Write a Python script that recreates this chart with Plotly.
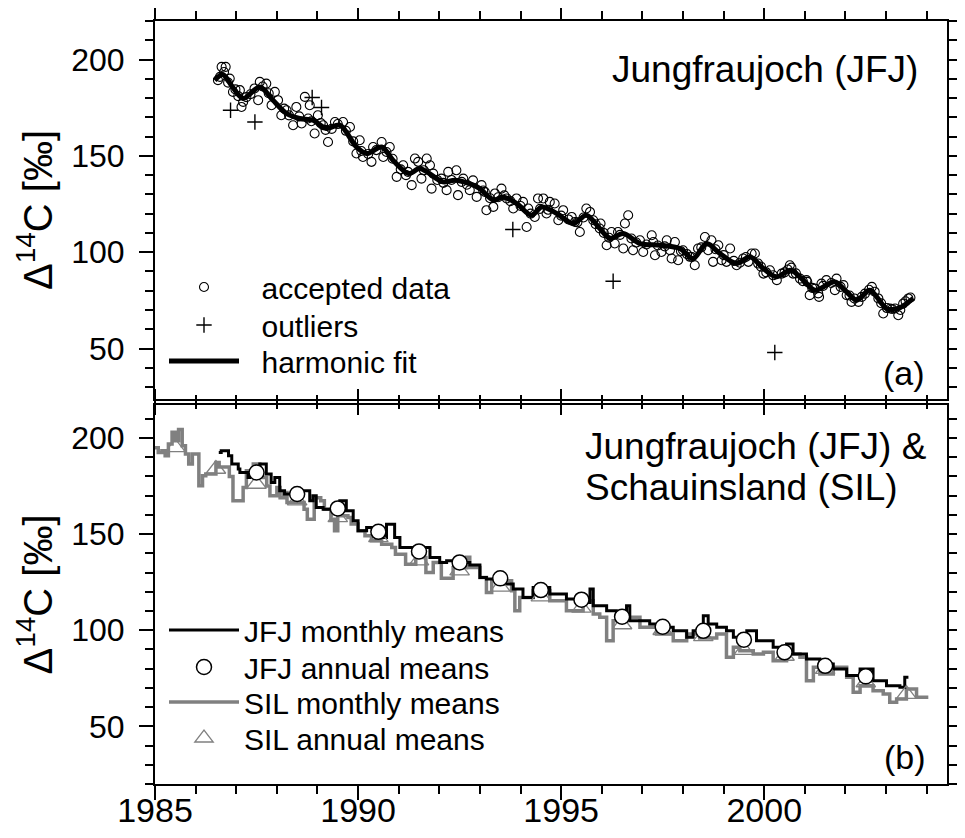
import plotly.graph_objects as go

# ---------------- Panel (a): Jungfraujoch individual samples ----------------
acc_year = [1986.55, 1986.60, 1986.64, 1986.70, 1986.74, 1986.80, 1986.84, 1986.92, 1986.98, 1987.05,
            1987.09, 1987.13, 1987.17, 1987.25, 1987.35, 1987.45, 1987.54, 1987.58, 1987.65, 1987.74,
            1987.80, 1987.87, 1987.95, 1988.03, 1988.11, 1988.18, 1988.24, 1988.30, 1988.40, 1988.48,
            1988.55, 1988.61, 1988.69, 1988.77, 1988.81, 1988.85, 1988.93, 1989.01, 1989.08, 1989.14,
            1989.20, 1989.26, 1989.35, 1989.43, 1989.50, 1989.63, 1989.70, 1989.80, 1989.88, 1989.96,
            1990.04, 1990.08, 1990.12, 1990.25, 1990.33, 1990.37, 1990.45, 1990.58, 1990.62, 1990.70,
            1990.78, 1990.85, 1990.95, 1991.05, 1991.11, 1991.18, 1991.23, 1991.32, 1991.40, 1991.48,
            1991.56, 1991.62, 1991.69, 1991.77, 1991.81, 1991.85, 1991.95, 1992.05, 1992.10, 1992.18,
            1992.22, 1992.30, 1992.42, 1992.46, 1992.55, 1992.59, 1992.68, 1992.75, 1992.83, 1992.92,
            1993.04, 1993.08, 1993.12, 1993.16, 1993.25, 1993.33, 1993.37, 1993.45, 1993.53, 1993.60,
            1993.66, 1993.75, 1993.82, 1993.90, 1994.00, 1994.06, 1994.15, 1994.19, 1994.25, 1994.35,
            1994.43, 1994.48, 1994.56, 1994.64, 1994.68, 1994.72, 1994.84, 1994.93, 1995.00, 1995.05,
            1995.18, 1995.26, 1995.34, 1995.40, 1995.46, 1995.55, 1995.62, 1995.71, 1995.79, 1995.85,
            1995.95, 1995.97, 1996.05, 1996.12, 1996.18, 1996.24, 1996.32, 1996.40, 1996.45, 1996.53,
            1996.57, 1996.65, 1996.73, 1996.77, 1996.85, 1996.94, 1997.02, 1997.10, 1997.23, 1997.27,
            1997.31, 1997.38, 1997.47, 1997.55, 1997.60, 1997.68, 1997.72, 1997.80, 1997.88, 1997.95,
            1998.00, 1998.10, 1998.17, 1998.22, 1998.29, 1998.37, 1998.45, 1998.54, 1998.62, 1998.70,
            1998.74, 1998.80, 1998.87, 1998.95, 1999.00, 1999.07, 1999.16, 1999.25, 1999.32, 1999.40,
            1999.48, 1999.55, 1999.61, 1999.69, 1999.77, 1999.85, 1999.92, 1999.98, 2000.05, 2000.14,
            2000.22, 2000.31, 2000.43, 2000.50, 2000.58, 2000.63, 2000.67, 2000.71, 2000.78, 2000.88,
            2000.95, 2001.04, 2001.06, 2001.12, 2001.18, 2001.25, 2001.33, 2001.35, 2001.41, 2001.45,
            2001.53, 2001.65, 2001.74, 2001.78, 2001.88, 2001.95, 2002.03, 2002.10, 2002.15, 2002.22,
            2002.32, 2002.40, 2002.48, 2002.58, 2002.65, 2002.72, 2002.81, 2002.88, 2002.93, 2003.02,
            2003.10, 2003.15, 2003.22, 2003.30, 2003.35, 2003.42, 2003.48, 2003.55, 2003.60]
acc_val = [189.3, 191.0, 196.2, 193.5, 196.2, 188.0, 190.1, 183.2, 184.5, 181.0,
           184.1, 175.4, 178.0, 180.5, 182.0, 185.0, 178.9, 188.4, 186.0, 187.5,
           182.5, 176.3, 183.2, 178.9, 171.1, 174.5, 173.7, 171.0, 165.9, 175.4,
           170.5, 166.8, 180.6, 169.4, 176.3, 168.0, 161.6, 171.1, 167.0, 165.9,
           163.5, 157.2, 164.0, 167.6, 166.5, 167.6, 163.0, 165.0, 157.5, 151.2,
           158.1, 152.5, 149.4, 151.0, 146.9, 154.6, 153.0, 157.2, 149.4, 152.0,
           154.6, 148.5, 139.1, 143.0, 145.1, 140.0, 141.7, 134.8, 148.6, 146.9,
           138.2, 142.5, 148.6, 145.1, 133.0, 140.8, 137.5, 138.2, 136.0, 132.2,
           141.7, 137.5, 142.5, 129.6, 136.5, 138.2, 135.0, 132.2, 137.3, 128.7,
           134.8, 132.0, 131.3, 121.8, 128.0, 123.5, 130.5, 128.5, 133.0, 129.5,
           127.9, 126.5, 122.7, 127.9, 124.0, 126.1, 113.1, 122.7, 120.0, 118.3,
           127.9, 122.5, 127.9, 120.1, 122.0, 126.1, 125.3, 116.6, 119.0, 121.8,
           117.0, 118.3, 115.7, 115.5, 110.5, 118.0, 122.7, 120.9, 116.6, 114.5,
           112.3, 114.9, 110.0, 103.6, 107.5, 110.5, 104.5, 110.5, 109.0, 101.9,
           114.9, 119.2, 107.1, 101.0, 105.0, 106.2, 100.1, 104.0, 108.8, 105.3,
           98.4, 103.5, 100.1, 103.0, 106.2, 101.0, 96.7, 105.3, 95.8, 100.5,
           101.0, 99.0, 97.6, 97.5, 93.2, 101.9, 102.5, 107.9, 101.0, 106.2,
           95.0, 101.5, 103.6, 95.8, 98.5, 95.0, 101.9, 95.5, 93.2, 94.5,
           96.7, 97.5, 95.0, 99.3, 99.3, 94.1, 92.5, 88.9, 89.5, 90.6,
           88.0, 85.5, 88.9, 89.5, 91.0, 93.2, 92.0, 88.9, 89.0, 86.3,
           85.0, 85.5, 84.6, 77.7, 81.5, 81.1, 78.6, 76.8, 83.7, 82.5,
           85.5, 84.0, 80.3, 86.3, 82.0, 82.9, 77.7, 77.5, 74.2, 76.0,
           74.2, 76.8, 78.5, 80.5, 82.0, 79.5, 76.0, 73.5, 68.2, 71.0,
           70.8, 70.5, 70.8, 67.3, 70.0, 73.3, 74.5, 76.0, 76.5]

out_year = [1986.86, 1987.46, 1988.87, 1989.10, 1993.81, 1996.28, 2000.26]
out_val = [173.7, 167.6, 180.3, 175.1, 111.8, 84.9, 47.9]

fit_year = [1986.47, 1986.67, 1986.90, 1987.17, 1987.58, 1987.90, 1988.24, 1988.56, 1988.89, 1989.22,
            1989.55, 1989.96, 1990.21, 1990.58, 1990.86, 1991.25, 1991.52, 1992.09, 1992.38, 1992.75,
            1993.00, 1993.33, 1993.57, 1993.90, 1994.27, 1994.52, 1994.89, 1995.30, 1995.62, 1995.95,
            1996.20, 1996.53, 1996.94, 1997.43, 1997.92, 1998.25, 1998.58, 1998.91, 1999.32, 1999.65,
            1999.98, 2000.30, 2000.65, 2000.96, 2001.25, 2001.74, 2002.00, 2002.28, 2002.60, 2003.01,
            2003.30, 2003.67]
fit_val = [189.3, 192.2, 186.0, 179.8, 185.8, 179.0, 172.0, 169.4, 168.5, 164.2,
           165.9, 154.6, 151.2, 154.6, 147.7, 140.8, 143.4, 136.5, 137.4, 135.6,
           133.0, 127.0, 128.7, 125.3, 119.2, 123.5, 120.1, 114.9, 119.2, 112.3,
           107.1, 109.7, 104.5, 103.6, 101.9, 96.7, 104.5, 99.3, 94.1, 97.6,
           91.5, 87.2, 90.6, 85.5, 80.3, 84.6, 80.0, 75.1, 80.3, 70.8,
           70.8, 76.0]

# ---------------- Panel (b): monthly and annual means ----------------
jfj_m_year = [1986.57, 1986.63, 1986.81, 1986.89, 1987.05, 1987.09, 1987.29, 1987.33, 1987.37, 1987.58,
              1987.74, 1987.86, 1987.95, 1988.07, 1988.19, 1988.40, 1988.81, 1988.89, 1988.97, 1989.14,
              1989.55, 1989.71, 1989.88, 1990.00, 1990.21, 1990.54, 1990.70, 1990.90, 1991.03, 1991.36,
              1991.60, 1991.77, 1992.01, 1992.18, 1992.50, 1992.75, 1993.00, 1993.16, 1993.49, 1993.82,
              1994.06, 1994.31, 1994.72, 1995.13, 1995.54, 1995.71, 1995.79, 1996.12, 1996.36, 1996.61,
              1996.69, 1997.18, 1997.43, 1997.76, 1998.09, 1998.25, 1998.50, 1998.62, 1998.83, 1999.07,
              1999.24, 1999.57, 1999.81, 2000.22, 2000.55, 2000.71, 2001.04, 2001.37, 2001.70, 2002.03,
              2002.36, 2002.68, 2003.01, 2003.34, 2003.46]
jfj_m_val = [192.5, 193.4, 190.8, 186.5, 183.9, 182.1, 179.5, 181.3, 183.0, 186.5,
             181.3, 176.9, 179.5, 172.6, 170.9, 172.6, 167.4, 170.0, 163.9, 163.0,
             167.4, 162.2, 157.0, 151.8, 153.5, 148.3, 155.2, 148.3, 143.1, 139.6,
             143.1, 137.9, 135.3, 136.2, 135.3, 134.0, 127.5, 126.6, 124.0, 121.4,
             117.1, 122.3, 118.8, 116.2, 114.5, 121.4, 112.8, 110.2, 108.4, 112.8,
             105.0, 103.2, 101.5, 99.7, 96.3, 99.7, 107.6, 103.2, 101.5, 99.7,
             96.3, 99.7, 94.6, 91.1, 92.8, 87.6, 85.0, 82.4, 79.8, 76.4,
             79.8, 73.7, 71.1, 70.3, 75.5]
jfj_m_end = 2003.55

sil_m_year = [1985.00, 1985.08, 1985.17, 1985.25, 1985.33, 1985.42, 1985.50, 1985.58, 1985.67, 1985.75,
              1985.83, 1985.92, 1986.08, 1986.17, 1986.25, 1986.50, 1986.58, 1986.83, 1986.92, 1987.17,
              1987.25, 1987.42, 1987.58, 1987.75, 1987.83, 1988.00, 1988.08, 1988.17, 1988.25, 1988.42,
              1988.50, 1988.67, 1988.75, 1988.92, 1989.08, 1989.17, 1989.33, 1989.42, 1989.50, 1989.75,
              1989.83, 1990.00, 1990.17, 1990.33, 1990.58, 1990.83, 1990.92, 1991.17, 1991.42, 1991.67,
              1991.85, 1992.05, 1992.34, 1992.67, 1992.75, 1993.00, 1993.16, 1993.29, 1993.78, 1993.86,
              1993.98, 1994.31, 1994.72, 1995.13, 1995.54, 1995.79, 1995.95, 1996.12, 1996.28, 1996.61,
              1996.94, 1997.35, 1997.76, 1998.09, 1998.41, 1998.83, 1999.07, 1999.24, 1999.40, 1999.73,
              1999.98, 2000.22, 2000.55, 2000.88, 2001.04, 2001.21, 2001.37, 2001.70, 2002.03, 2002.19,
              2002.36, 2002.68, 2002.93, 2003.09, 2003.26, 2003.50, 2003.75]
sil_m_val = [195.0, 192.5, 193.4, 190.8, 196.9, 203.0, 198.6, 204.5, 196.0, 191.7,
             186.5, 191.7, 175.2, 180.4, 181.3, 187.3, 185.0, 180.0, 167.4, 174.3,
             183.0, 186.5, 179.5, 175.0, 170.0, 174.3, 169.0, 171.7, 166.5, 170.0,
             166.5, 163.0, 157.8, 169.0, 167.4, 163.0, 157.8, 151.8, 159.6, 158.7,
             155.3, 151.8, 149.2, 146.6, 144.8, 143.1, 139.6, 134.4, 137.9, 130.1,
             135.3, 127.0, 132.5, 138.0, 132.7, 127.5, 119.7, 125.7, 120.5, 110.2,
             117.1, 120.6, 115.4, 110.2, 115.4, 108.4, 106.7, 94.6, 105.0, 106.7,
             101.5, 98.0, 94.6, 98.0, 96.0, 98.0, 85.9, 91.1, 89.3, 87.6,
             88.5, 84.1, 87.6, 85.9, 73.7, 80.7, 77.2, 80.7, 75.5, 67.7,
             71.1, 68.5, 66.8, 62.5, 64.2, 69.4, 65.1]
sil_m_end = 2004.04

jfj_a_year = [1987.5, 1988.5, 1989.5, 1990.5, 1991.5, 1992.5, 1993.5, 1994.5, 1995.5, 1996.5,
              1997.5, 1998.5, 1999.5, 2000.5, 2001.5, 2002.5]
jfj_a_val = [182.1, 170.9, 163.4, 151.2, 141.0, 135.3, 127.0, 120.9, 115.9, 107.0,
             101.8, 99.7, 95.1, 88.5, 81.5, 76.0]

sil_a_year = [1985.5, 1986.5, 1987.5, 1988.5, 1989.5, 1990.5, 1991.5, 1992.5, 1993.5, 1994.5,
              1995.5, 1996.5, 1997.5, 1998.5, 1999.5, 2000.5, 2001.5, 2002.5, 2003.5]
sil_a_val = [195.1, 183.9, 176.1, 167.4, 158.7, 148.3, 136.2, 131.0, 122.6, 117.5,
             111.6, 103.0, 100.0, 96.8, 89.7, 86.6, 79.8, 72.8, 66.8]

FONT = "Liberation Sans, Arial, sans-serif"
GREY = "#808080"

# the page body keeps its default 8 px margin, so the figure starts 8 px in
BODY = 8
W, H = 965 - BODY, 838 - BODY
ML, MR, MT, MB = 155 - BODY, W - (947 - BODY), 21 - BODY, H - (784 - BODY)
PW, PH = W - ML - MR, H - MT - MB


def px_x(px):
    """page pixel -> paper fraction"""
    return (px - BODY - ML) / PW


def px_y(py):
    return (H - MB - (py - BODY)) / PH


fig = go.Figure()

# panel (a)
fig.add_trace(go.Scatter(x=acc_year, y=acc_val, mode="markers", name="\u2002\u200aaccepted data",
                         marker=dict(symbol="circle-open", size=9, color="black", line=dict(width=1.1)),
                         xaxis="x", yaxis="y", legend="legend"))
fig.add_trace(go.Scatter(x=out_year, y=out_val, mode="markers", name="\u2002\u200aoutliers",
                         marker=dict(symbol="cross-thin", size=11, color="black", line=dict(width=1.4, color="black")),
                         xaxis="x", yaxis="y", legend="legend2"))
fig.add_trace(go.Scatter(x=fit_year, y=fit_val, mode="lines", name="\u2002\u200aharmonic fit",
                         line=dict(color="black", width=5, shape="spline", smoothing=0.9),
                         xaxis="x", yaxis="y", legend="legend3"))

# panel (b)
fig.add_trace(go.Scatter(x=sil_m_year + [sil_m_end], y=sil_m_val + [sil_m_val[-1]], mode="lines",
                         name="SIL monthly means", line=dict(color=GREY, width=3.5, shape="hv"),
                         xaxis="x2", yaxis="y2", legend="legend6"))
fig.add_trace(go.Scatter(x=jfj_m_year + [jfj_m_end], y=jfj_m_val + [jfj_m_val[-1]], mode="lines",
                         name="JFJ monthly means", line=dict(color="black", width=3, shape="hv"),
                         xaxis="x2", yaxis="y2", legend="legend4"))
fig.add_trace(go.Scatter(x=sil_a_year, y=sil_a_val, mode="markers", name="SIL annual means",
                         marker=dict(symbol="triangle-up-open", size=17, color=GREY, line=dict(width=1.3)),
                         xaxis="x2", yaxis="y2", legend="legend7"))
fig.add_trace(go.Scatter(x=jfj_a_year, y=jfj_a_val, mode="markers", name="JFJ annual means",
                         marker=dict(symbol="circle", size=15, color="white", line=dict(width=1.5, color="black")),
                         xaxis="x2", yaxis="y2", legend="legend5"))

common = dict(showline=True, linewidth=2, linecolor="black", mirror="allticks",
              ticks="outside", ticklen=14, tickwidth=2, tickcolor="black",
              showgrid=False, zeroline=False, automargin=False)
yfont = dict(family=FONT, size=32, color="black")
xfont = dict(family=FONT, size=34, color="black")
xminor = dict(ticks="outside", ticklen=8, tickwidth=2, tickcolor="black", dtick=1, showgrid=False)
yminor = dict(ticks="outside", ticklen=8, tickwidth=2, tickcolor="black", dtick=10, showgrid=False)

top_dom = [px_y(399), 1.0]
bot_dom = [0.0, px_y(405)]


def leg(row_y):
    return dict(x=px_x(164), y=px_y(row_y), xanchor="left", yanchor="middle",
                bgcolor="rgba(0,0,0,0)", borderwidth=0,
                font=dict(family=FONT, size=30, color="black"), itemwidth=70)


fig.update_layout(
    template="none",
    width=W, height=H,
    margin=dict(l=ML, r=MR, t=MT, b=MB, pad=0),
    paper_bgcolor="white", plot_bgcolor="white",
    font=dict(family=FONT, size=30, color="black"),
    xaxis=dict(domain=[0, 1], anchor="y", range=[1985, 2004.5], tickmode="linear", tick0=1985, dtick=5,
               showticklabels=False, minor=xminor, tickfont=xfont, **common),
    yaxis=dict(domain=top_dom, anchor="x", range=[23.8, 220], tickmode="linear", tick0=0, dtick=50,
               ticklabelstandoff=8, minor=yminor, tickfont=yfont, **common),
    xaxis2=dict(domain=[0, 1], anchor="y2", range=[1985, 2004.5], tickmode="linear", tick0=1985, dtick=5,
                ticklabelstandoff=-19, minor=xminor, tickfont=xfont, **common),
    yaxis2=dict(domain=bot_dom, anchor="x2", range=[20, 217.2], tickmode="linear", tick0=0, dtick=50,
                ticklabelstandoff=8, minor=yminor, tickfont=yfont, **common),
    showlegend=True,
    legend=leg(287), legend2=leg(325), legend3=leg(361),
    legend4=leg(630), legend5=leg(667), legend6=leg(702), legend7=leg(738),
)

ytitle = "\u0394<sup>14</sup>C [\u2030]"
annots = [
    (ytitle, px_x(35), (top_dom[0] + top_dom[1]) / 2, "center", 40, -90),
    (ytitle, px_x(35), (bot_dom[0] + bot_dom[1]) / 2, "center", 40, -90),
    ("Jungfraujoch (JFJ)", px_x(610), px_y(69), "left", 37, 0),
    ("(a)", px_x(927), px_y(373), "right", 34, 0),
    ("Jungfraujoch (JFJ) &", px_x(583), px_y(447), "left", 37, 0),
    ("Schauinsland (SIL)", px_x(583), px_y(487), "left", 37, 0),
    ("(b)", px_x(928), px_y(757), "right", 34, 0),
]
for text, ax, ay, xa, fs, ang in annots:
    fig.add_annotation(text=text, x=ax, y=ay, xref="paper", yref="paper", xanchor=xa, yanchor="middle",
                       textangle=ang, showarrow=False,
                       font=dict(family=FONT, size=fs, color="black"))

fig.write_html("out.html")
